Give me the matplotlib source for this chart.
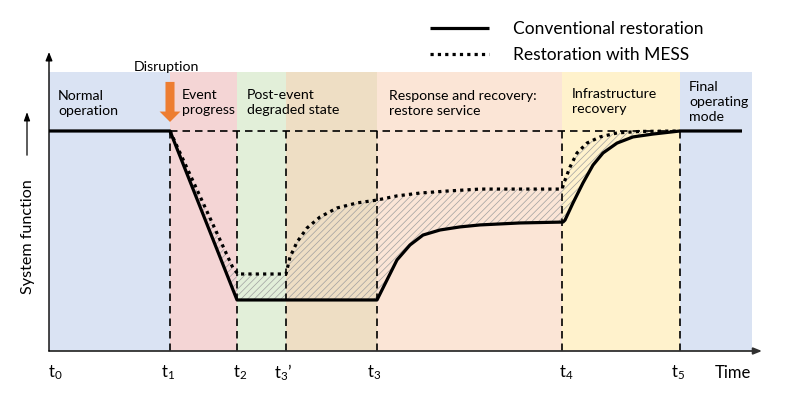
import numpy as np
import matplotlib
matplotlib.use("Agg")
import matplotlib.pyplot as plt

plt.rcParams.update({
    "font.family": ["Lato", "DejaVu Sans"],
    "mathtext.fontset": "custom",
    "mathtext.rm": "Lato",
    "mathtext.it": "Lato:italic",
    "hatch.linewidth": 0.5,
    "hatch.color": "#a0a0a0",
})

# Phase boundaries (time units)
T1, T2, T3P, T3, T4, T5 = 12.1, 18.8, 23.7, 32.8, 51.3, 63.1
T_END = 70.3
X_MAX = 71.3
Y_MAX = 1.359
BAND_TOP = 1.268
NORMAL = 1.0

# Background phases
band_edges = [0, T1, T2, T3P, T3, T4, T5, T_END]
band_colors = ["#dae3f3", "#f4d5d5", "#e2efd9", "#eedec4",
               "#fbe5d6", "#fff2cc", "#dae3f3"]

# Conventional restoration curve
conv_t = [0, 12.1, 18.8, 32.8, 33.8, 34.8, 36.1, 37.4, 39.1, 41.1, 43.1,
          47.1, 51.4, 51.6, 52.4, 53.4, 54.4, 55.4, 56.8, 58.4, 60.4,
          63.1, 69.3]
conv_f = [1.0, 1.0, 0.232, 0.232, 0.323, 0.414, 0.482, 0.527, 0.55, 0.564,
          0.573, 0.582, 0.586, 0.595, 0.673, 0.764, 0.845, 0.9, 0.945,
          0.973, 0.986, 1.0, 1.0]

# Restoration with MESS curve
mess_t = [12.1, 18.4, 18.9, 23.7, 24.1, 24.8, 25.8, 27.1, 28.8, 30.8, 32.8,
          34.8, 37.1, 39.8, 43.1, 51.3, 51.6, 52.1, 52.8, 53.8, 55.1, 56.8,
          59.1, 63.1]
mess_f = [1.0, 0.377, 0.35, 0.35, 0.427, 0.495, 0.559, 0.609, 0.65, 0.673,
          0.686, 0.705, 0.718, 0.727, 0.736, 0.736, 0.777, 0.836, 0.9,
          0.945, 0.973, 0.991, 0.998, 1.0]

tick_labels = [r"$\mathrm{t}_0$", r"$\mathrm{t}_1$", r"$\mathrm{t}_2$",
               r"$\mathrm{t}_3$’", r"$\mathrm{t}_3$", r"$\mathrm{t}_4$",
               r"$\mathrm{t}_5$", "Time"]
tick_x = [0.6, 11.9, 19.1, 23.4, 32.5, 51.7, 62.9, 68.4]

phase_labels = ["Normal\noperation", "Event\nprogress",
                "Post-event\ndegraded state",
                "Response and recovery:\nrestore service",
                "Infrastructure\nrecovery", "Final\noperating\nmode"]
phase_x = [0.9, 13.3, 19.8, 34.0, 52.3, 64.0]
phase_y = [1.123, 1.13, 1.13, 1.123, 1.136, 1.134]

fig = plt.figure(figsize=(7.9, 3.93), dpi=100)
ax = fig.add_axes([49 / 790, 42 / 393, 713 / 790, 299 / 393])
ax.set_xlim(0, X_MAX)
ax.set_ylim(0, Y_MAX)
ax.axis("off")

for x0, x1, c in zip(band_edges[:-1], band_edges[1:], band_colors):
    ax.fill_between([x0, x1], 0, BAND_TOP, color=c, lw=0, zorder=0)

# hatched gap between the two curves
grid = np.union1d(conv_t, mess_t)
grid = grid[(grid >= T1) & (grid <= T5)]
upper = np.interp(grid, mess_t, mess_f)
lower = np.interp(grid, conv_t, conv_f)
ax.fill_between(grid, lower, upper, facecolor="none", edgecolor="#a0a0a0",
                hatch="/////", lw=0, zorder=1)

# dashed guides
dash = dict(color="black", lw=1.2, ls=(0, (4.5, 3)), zorder=2)
for t in [T1, T2, T3P, T3, T4, T5]:
    ax.plot([t, t], [0, NORMAL], **dash)
ax.plot([T1, T5], [NORMAL, NORMAL], **dash)

conv_line, = ax.plot(conv_t, conv_f, color="black", lw=2.3,
                     solid_capstyle="butt", zorder=4,
                     label="Conventional restoration")
mess_line, = ax.plot(mess_t, mess_f, color="black", lw=2.3,
                     ls=(0, (1.0, 1.3)), zorder=3,
                     label="Restoration with MESS")

# axes with arrows
ax.annotate("", xy=(X_MAX, 0), xytext=(0, 0), annotation_clip=False,
            arrowprops=dict(arrowstyle="-|>,head_length=0.5,head_width=0.2",
                            color="#303030", lw=1.3, shrinkA=0, shrinkB=0))
ax.annotate("", xy=(0, Y_MAX), xytext=(0, 0), annotation_clip=False,
            arrowprops=dict(arrowstyle="-|>,head_length=0.5,head_width=0.2",
                            color="black", lw=1.0, shrinkA=0, shrinkB=0))

# disruption arrow
ax.annotate("", xy=(T1, 1.041), xytext=(T1, 1.223),
            arrowprops=dict(arrowstyle="simple,head_length=0.75,head_width=1.5,tail_width=0.65",
                            mutation_scale=10, fc="#ed7d31", ec="none",
                            shrinkA=0, shrinkB=0), zorder=5)
ax.text(11.7, 1.291, "Disruption", ha="center", va="center", fontsize=10.2)

for lab, x, y in zip(phase_labels, phase_x, phase_y):
    ax.text(x, y, lab, ha="left", va="center", fontsize=10.2, linespacing=1.3)

for lab, x in zip(tick_labels, tick_x):
    ax.text(x, -0.1, lab, ha="center", va="center", fontsize=12,
            clip_on=False)

# y label with arrow
ax.text(-2.1, 0.52, "System function", rotation=90, ha="center",
        va="center", fontsize=11.6, clip_on=False)
ax.annotate("", xy=(-2.2, 1.086), xytext=(-2.2, 0.89), annotation_clip=False,
            arrowprops=dict(arrowstyle="-|>,head_length=0.5,head_width=0.18",
                            color="black", lw=0.9, shrinkA=0, shrinkB=0))

fig.legend(handles=[conv_line, mess_line], loc="upper left",
           bbox_to_anchor=(430 / 790, 1 - 21 / 393), frameon=False,
           fontsize=12.5, handlelength=3.4, handletextpad=1.4,
           labelspacing=0.6, borderpad=0, borderaxespad=0)

fig.savefig("out.png", dpi=100)
